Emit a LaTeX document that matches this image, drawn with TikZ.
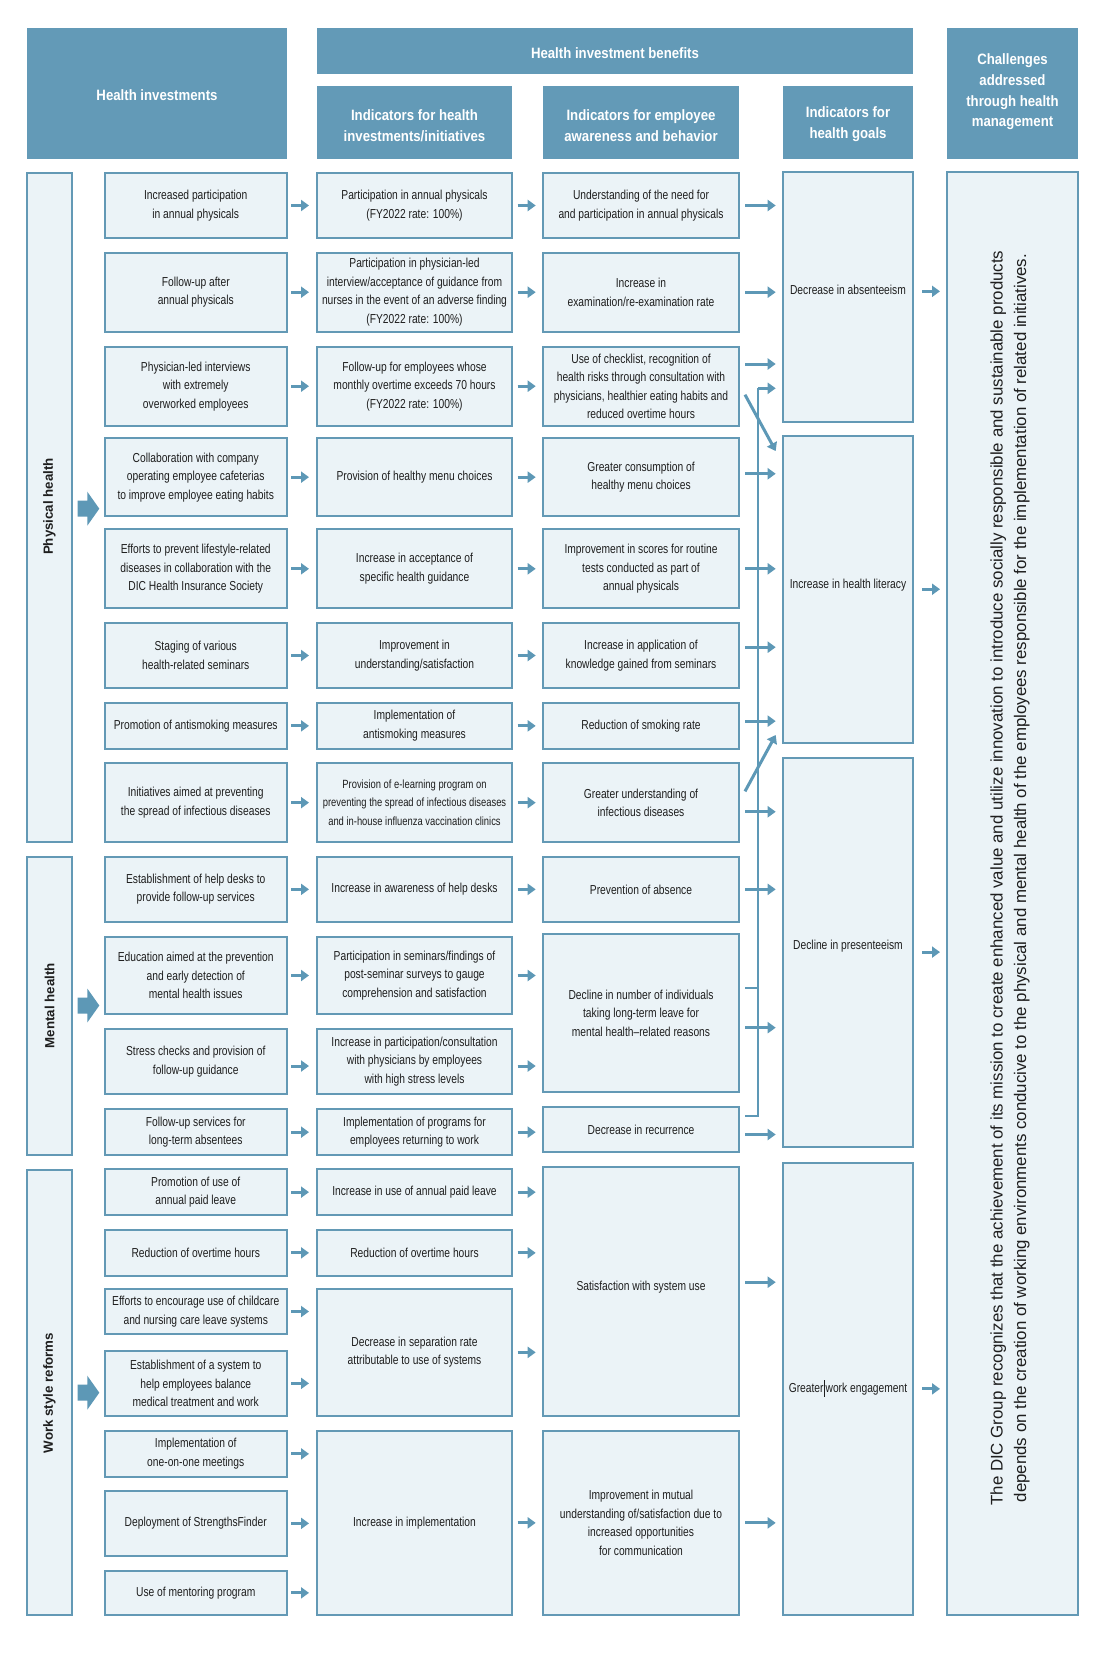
\documentclass[tikz,border=0pt]{standalone}
\usepackage{fontspec}
\setmainfont{Liberation Sans}
\newfontfamily\nf{Liberation Sans}[FakeStretch=0.79]
\newfontfamily\hf{Liberation Sans}[FakeStretch=0.88]
\usetikzlibrary{arrows.meta,fit}
\definecolor{hdr}{HTML}{639AB7}
\definecolor{bfill}{HTML}{EBF3F7}
\definecolor{bdr}{HTML}{6399B5}
\definecolor{arc}{HTML}{5D98B6}
\definecolor{txt}{HTML}{1E1E1E}
\tikzset{
  hd/.style={fill=hdr, draw=none, inner sep=0pt},
  hdt/.style={inner sep=0pt, text=white, align=center, font=\hf\bfseries\fontsize{15}{20.7}\selectfont},
  bx/.style={fill=bfill, draw=bdr, line width=2pt, inner sep=0pt},
  bxt/.style={inner sep=0pt, text=txt, align=center, font=\nf\fontsize{13}{18.5}\selectfont},
  bxst/.style={bxt, font=\nf\fontsize{11.9}{18.5}\selectfont},
  labtext/.style={rotate=90, inner sep=0pt, text=txt, font=\bfseries\fontsize{13.3}{16}\selectfont},
  ar/.style={draw=arc, line width=3pt, -{Triangle[length=8pt,width=11pt]}},
  aone/.style={ar, shorten <=3pt, shorten >=7pt},
  atwo/.style={ar, shorten <=4.7pt, shorten >=6.3pt},
  athree/.style={ar, shorten <=5pt, shorten >=6.3pt},
  afour/.style={ar, shorten <=8pt, shorten >=6pt},
  aend/.style={ar, shorten >=6.3pt},
  ln/.style={draw=arc, line width=2.6pt},
}
% \B[down shift]{name}{x1}{y1}{x2}{y2}{box style}{text style}{text}
\newcommand\B[9][0]{\node[#7, fit={(#3,#4) (#5,#6)}] (#2) {};
  \node[#8] (#2t) at ([yshift={-(#1)*1pt}]#2.center) {#9};}
\newcommand\bigarrow[1]{\fill[arc] (77.7,#1-8) -- (87.3,#1-8) -- (87.3,#1-17) -- (99.3,#1) -- (87.3,#1+17) -- (87.3,#1+8) -- (77.7,#1+8) -- cycle;}
\begin{document}
\begin{tikzpicture}[x=1pt,y=-1pt]
\fill[white] (0,0) rectangle (1109,1669);
\useasboundingbox (0,0) rectangle (1109,1669);

% headers
\B[1.9]{h1}{27}{28}{287}{158.7}{hd}{hdt}{Health investments}
\B[2.5]{h2}{317}{28}{913}{73.7}{hd}{hdt}{Health investment benefits}
\B[3.4]{h3}{317}{86}{512}{158.7}{hd}{hdt}{Indicators for health\\investments/initiatives}
\B[3.4]{h4}{543}{86}{739}{158.7}{hd}{hdt}{Indicators for employee\\awareness and behavior}
\B[1.5]{h5}{783}{86}{913}{158.7}{hd}{hdt}{Indicators for\\health goals}
\B[-1.4]{h6}{947}{28}{1078}{158.7}{hd}{hdt}{Challenges\\addressed\\through health\\management}

% label columns
\node[bx, fit={(27,172.7) (72,842)}] (L1) {};
\node[bx, fit={(27,856.7) (72,1155.3)}] (L2) {};
\node[bx, fit={(27,1170) (72,1615)}] (L3) {};
\node[labtext] (t1) at (49.5,506.5) {Physical health};
\node[labtext] (t2) at (49.5,1005.8) {Mental health};
\node[labtext] (t3) at (49.5,1393) {Work style reforms};
\bigarrow{508.7}
\bigarrow{1005.5}
\bigarrow{1392.7}

% column 1
\B{a1}{104.5}{172.7}{287}{238.3}{bx}{bxt}{Increased participation\\in annual physicals}
\B{a2}{104.5}{252.7}{287}{331.7}{bx}{bxt}{Follow-up after\\annual physicals}
\B{a3}{104.5}{346.7}{287}{425.7}{bx}{bxt}{Physician-led interviews\\with extremely\\overworked employees}
\B{a4}{104.5}{438.3}{287}{516}{bx}{bxt}{Collaboration with company\\operating employee cafeterias\\to improve employee eating habits}
\B{a5}{104.5}{529.3}{287}{608.3}{bx}{bxt}{Efforts to prevent lifestyle-related\\diseases in collaboration with the\\DIC Health Insurance Society}
\B{a6}{104.5}{622.7}{287}{688.3}{bx}{bxt}{Staging of various\\health-related seminars}
\B{a7}{104.5}{702.7}{287}{749}{bx}{bxt}{Promotion of antismoking measures}
\B{a8}{104.5}{763.3}{287}{842}{bx}{bxt}{Initiatives aimed at preventing\\the spread of infectious diseases}
\B{a9}{104.5}{856.7}{287}{922}{bx}{bxt}{Establishment of help desks to\\provide follow-up services}
\B{a10}{104.5}{936.7}{287}{1014.3}{bx}{bxt}{Education aimed at the prevention\\and early detection of\\mental health issues}
\B{a11}{104.5}{1028.7}{287}{1094.3}{bx}{bxt}{Stress checks and provision of\\follow-up guidance}
\B{a12}{104.5}{1109}{287}{1155.3}{bx}{bxt}{Follow-up services for\\long-term absentees}
\B{a13}{104.5}{1169.3}{287}{1215}{bx}{bxt}{Promotion of use of\\annual paid leave}
\B{a14}{104.5}{1230}{287}{1275.7}{bx}{bxt}{Reduction of overtime hours}
\B{a15}{104.5}{1288.7}{287}{1334.3}{bx}{bxt}{Efforts to encourage use of childcare\\and nursing care leave systems}
\B{a16}{104.5}{1350.7}{287}{1416}{bx}{bxt}{Establishment of a system to\\help employees balance\\medical treatment and work}
\B{a17}{104.5}{1430.7}{287}{1477}{bx}{bxt}{Implementation of\\one-on-one meetings}
\B{a18}{104.5}{1490.7}{287}{1556}{bx}{bxt}{Deployment of StrengthsFinder}
\B{a19}{104.5}{1570.7}{287}{1615}{bx}{bxt}{Use of mentoring program}

% column 2
\B{b1}{317}{172.7}{512}{238.3}{bx}{bxt}{Participation in annual physicals\\(FY2022 rate: 100\%)}
\B{b2}{317}{252.7}{512}{331.7}{bx}{bxt}{Participation in physician-led\\interview/acceptance of guidance from\\nurses in the event of an adverse finding\\(FY2022 rate: 100\%)}
\B{b3}{317}{346.7}{512}{425.7}{bx}{bxt}{Follow-up for employees whose\\monthly overtime exceeds 70 hours\\(FY2022 rate: 100\%)}
\B{b4}{317}{438.3}{512}{516}{bx}{bxt}{Provision of healthy menu choices}
\B{b5}{317}{529.3}{512}{608.3}{bx}{bxt}{Increase in acceptance of\\specific health guidance}
\B{b6}{317}{622.7}{512}{688.3}{bx}{bxt}{Improvement in\\understanding/satisfaction}
\B{b7}{317}{702.7}{512}{749}{bx}{bxt}{Implementation of\\antismoking measures}
\B{b8}{317}{763.3}{512}{842}{bx}{bxst}{Provision of e-learning program on\\preventing the spread of infectious diseases\\and in-house influenza vaccination clinics}
\B{b9}{317}{856.7}{512}{922}{bx}{bxt}{Increase in awareness of help desks}
\B{b10}{317}{936.7}{512}{1014.3}{bx}{bxt}{Participation in seminars/findings of\\post-seminar surveys to gauge\\comprehension and satisfaction}
\B{b11}{317}{1028.7}{512}{1094.3}{bx}{bxt}{Increase in participation/consultation\\with physicians by employees\\with high stress levels}
\B{b12}{317}{1109}{512}{1155.3}{bx}{bxt}{Implementation of programs for\\employees returning to work}
\B{b13}{317}{1169.3}{512}{1215}{bx}{bxt}{Increase in use of annual paid leave}
\B{b14}{317}{1230}{512}{1275.7}{bx}{bxt}{Reduction of overtime hours}
\B{b15}{317}{1288.7}{512}{1416}{bx}{bxt}{Decrease in separation rate\\attributable to use of systems}
\B{b17}{317}{1430.7}{512}{1615}{bx}{bxt}{Increase in implementation}

% column 3
\B{c1}{543}{172.7}{739}{238.3}{bx}{bxt}{Understanding of the need for\\and participation in annual physicals}
\B{c2}{543}{252.7}{739}{331.7}{bx}{bxt}{Increase in\\examination/re-examination rate}
\B{c3}{543}{346.7}{739}{425.7}{bx}{bxt}{Use of checklist, recognition of\\health risks through consultation with\\physicians, healthier eating habits and\\reduced overtime hours}
\B{c4}{543}{438.3}{739}{516}{bx}{bxt}{Greater consumption of\\healthy menu choices}
\B{c5}{543}{529.3}{739}{608.3}{bx}{bxt}{Improvement in scores for routine\\tests conducted as part of\\annual physicals}
\B{c6}{543}{622.7}{739}{688.3}{bx}{bxt}{Increase in application of\\knowledge gained from seminars}
\B{c7}{543}{702.7}{739}{749}{bx}{bxt}{Reduction of smoking rate}
\B{c8}{543}{763.3}{739}{842}{bx}{bxt}{Greater understanding of\\infectious diseases}
\B{c9}{543}{856.7}{739}{922}{bx}{bxt}{Prevention of absence}
\B{c10}{543}{934}{739}{1092.3}{bx}{bxt}{Decline in number of individuals\\taking long-term leave for\\mental health–related reasons}
\B{c12}{543}{1106.7}{739}{1152.3}{bx}{bxt}{Decrease in recurrence}
\B[-4]{c13}{543}{1166.7}{739}{1415.7}{bx}{bxt}{Satisfaction with system use}
\B{c17}{543}{1430.7}{739}{1615}{bx}{bxt}{Improvement in mutual\\understanding of/satisfaction due to\\increased opportunities\\for communication}

% column 4
\node[bx, fit={(783,172) (913,421.5)}] (D1) {};
\node[bx, fit={(783,435.5) (913,743)}] (D2) {};
\node[bx, fit={(783,757.6) (913,1146.6)}] (D3) {};
\node[bx, fit={(783,1162.7) (913,1615)}] (D4) {};
\node[bxt] (d1t) at (848,290) {Decrease in absenteeism};
\node[bxt] (d2t) at (848,585) {Increase in health literacy};
\node[bxt] (d3t) at (848,946) {Decline in presenteeism};
\node[bxt] (d4t) at (848,1388) {Greater\hspace{0.5pt}\rule[-4pt]{1pt}{17pt}\hspace{0.5pt}work engagement};

% column 5
\node[bx, fit={(947,172) (1078,1615)}] (E) {};
\node[rotate=90, align=center, text=txt, font=\fontsize{16.85}{23.7}\selectfont] (et) at (1010,878) {The DIC Group recognizes that the achievement of its mission to create enhanced value and utilize innovation to introduce socially responsible and sustainable products\\depends on the creation of working environments conducive to the physical and mental health of the employees responsible for the implementation of related initiatives.};

% arrows col1 -> col2
\foreach \i in {1,...,10,12,13,14} {\draw[aone] (a\i.east) -- (a\i.east -| b\i.west);}
\draw[aone] ([yshift=-4.5pt]a11.east) -- ([yshift=-4.5pt]a11.east -| b11.west);
\draw[aone] (a15.east) -- (a15.east -| b15.west);
\draw[aone] (a16.east) -- (a16.east -| b15.west);
\draw[aone] (a17.east) -- (a17.east -| b17.west);
\draw[aone] (a18.east) -- (a18.east -| b17.west);
\draw[aone] (a19.east) -- (a19.east -| b17.west);

% arrows col2 -> col3
\foreach \i in {1,...,9} {\draw[atwo] (b\i.east) -- (b\i.east -| c\i.west);}
\draw[atwo] (b10.east) -- (b10.east -| c10.west);
\draw[atwo] ([yshift=-4.5pt]b11.east) -- ([yshift=-4.5pt]b11.east -| c10.west);
\draw[atwo] (b12.east) -- (b12.east -| c12.west);
\draw[atwo] (b13.east) -- (b13.east -| c13.west);
\draw[atwo] (b14.east) -- (b14.east -| c13.west);
\draw[atwo] (b15.east) -- (b15.east -| c13.west);
\draw[atwo] (b17.east) -- (b17.east -| c17.west);

% arrows col3 -> col4
\draw[athree] (c1.east) -- (c1.east -| D1.west);
\draw[athree] (c2.east) -- (c2.east -| D1.west);
\draw[athree] ([yshift=22.2pt]c3.east) -- ([yshift=22.2pt]c3.east -| D1.west);
\draw[ar, shorten >=0pt] ([xshift=5pt,yshift=-8.5pt]c3.east) -- ([xshift=-6.3pt,yshift=-16.5pt]D2.north west);
\draw[athree] ([yshift=3.4pt]c4.east) -- ([yshift=3.4pt]c4.east -| D2.west);
\draw[athree] (c5.east) -- (c5.east -| D2.west);
\draw[athree] ([yshift=8.3pt]c6.east) -- ([yshift=8.3pt]c6.east -| D2.west);
\draw[athree] ([yshift=4.7pt]c7.east) -- ([yshift=4.7pt]c7.east -| D2.west);
\draw[ar, shorten >=0pt] ([xshift=5pt,yshift=11.3pt]c8.east) -- ([xshift=-6.3pt,yshift=9pt]D2.south west);
\draw[athree] ([yshift=-9.1pt]c8.east) -- ([yshift=-9.1pt]c8.east -| D3.west);
\draw[athree] (c9.east) -- (c9.east -| D3.west);
\draw[athree] ([yshift=-14.5pt]c10.east) -- ([yshift=-14.5pt]c10.east -| D3.west);
\draw[athree] ([yshift=-5pt]c12.east) -- ([yshift=-5pt]c12.east -| D3.west);
\draw[athree] ([yshift=9pt]c13.east) -- ([yshift=9pt]c13.east -| D4.west);
\draw[athree] (c17.east) -- (c17.east -| D4.west);

% bracket from mental health results to absenteeism
\coordinate (kt) at (758,388.3);
\draw[ln] ([xshift=5pt,yshift=25pt]c10.east) -- ([yshift=25pt]c10.east -| kt);
\draw[ln] ([xshift=5pt,yshift=13.5pt]c12.east) -| (kt);
\draw[aend] (kt) -- (kt -| D1.west);

% arrows col4 -> col5
\draw[afour] ([yshift=5.4pt]D1.east) -- ([yshift=5.4pt]D1.east -| E.west);
\draw[afour] (D2.east) -- (D2.east -| E.west);
\draw[afour] (D3.east) -- (D3.east -| E.west);
\draw[afour] (D4.east) -- (D4.east -| E.west);
\end{tikzpicture}
\end{document}
